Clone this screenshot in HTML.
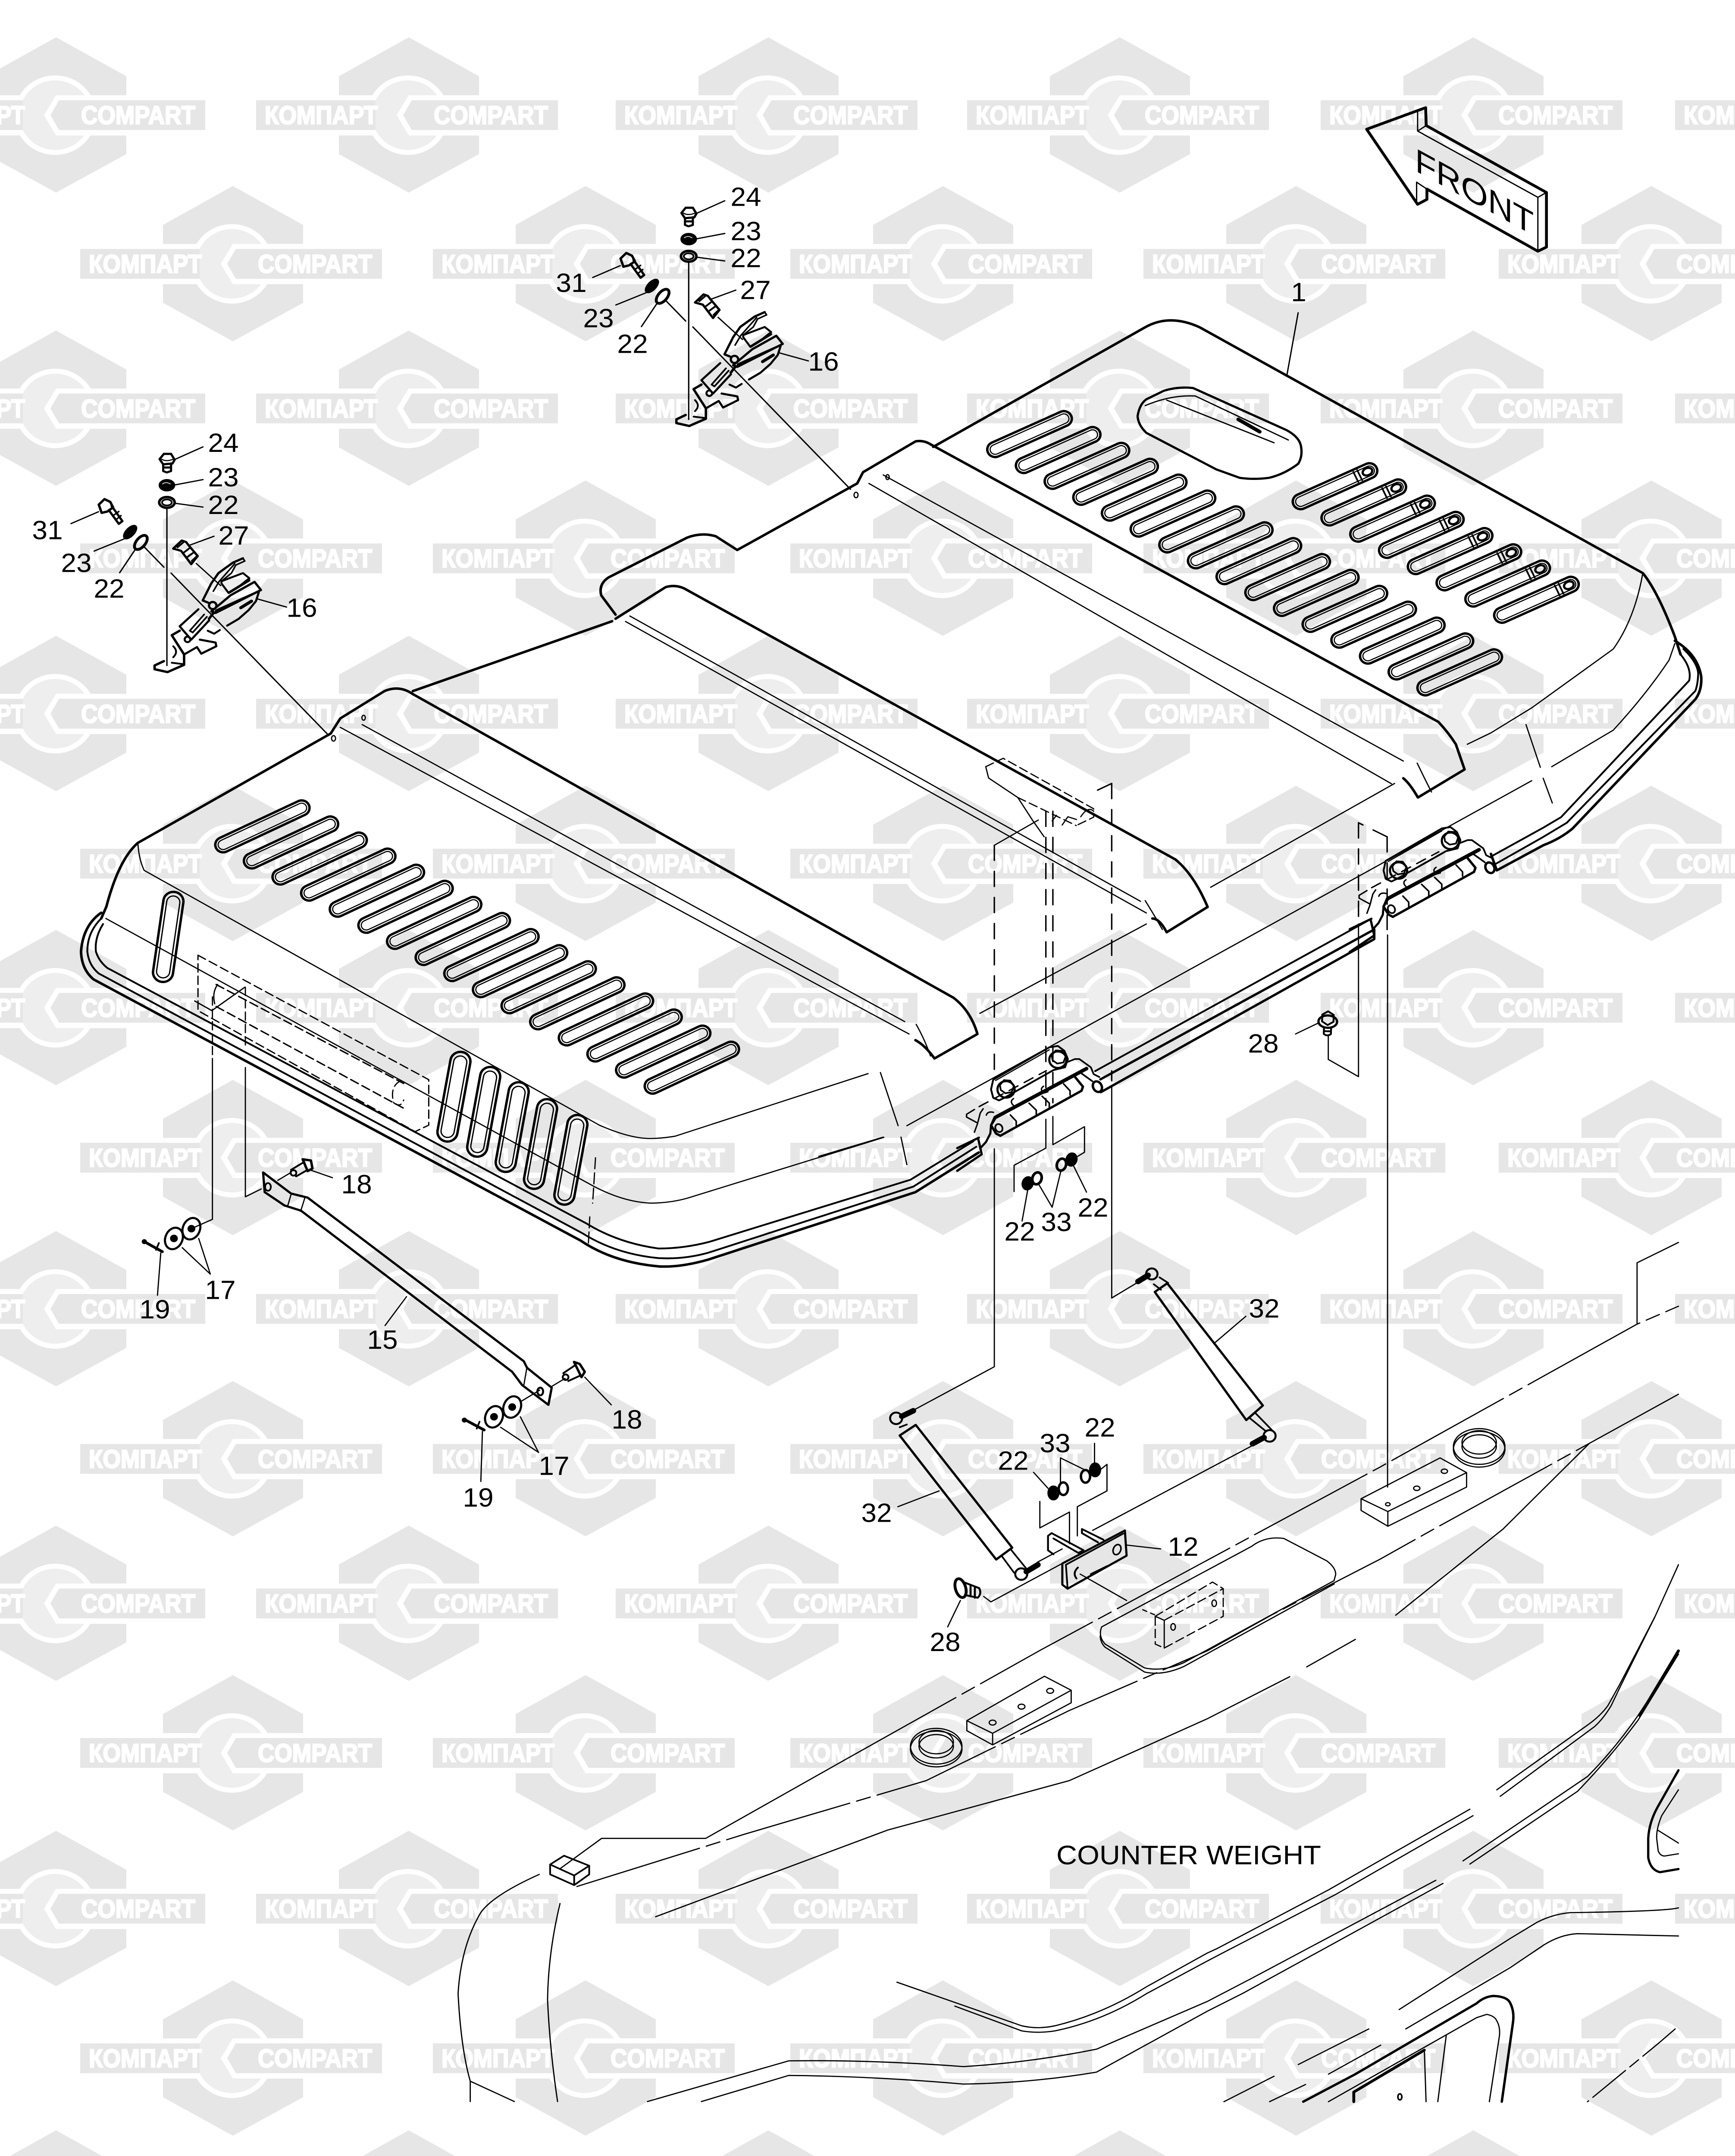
<!DOCTYPE html>
<html><head><meta charset="utf-8"><style>
html,body{margin:0;padding:0;background:#fff;width:100vw;height:100vh;overflow:hidden}
svg{display:block;position:fixed;left:0;top:0;width:100vw;height:100vh}
</style></head><body>
<svg xmlns="http://www.w3.org/2000/svg" viewBox="0 0 4024 5205" preserveAspectRatio="none">
<defs>
<g id="w">
<polygon points="0,-188 163,-94 163,94 0,187 -162,94 -162,-94" fill="#e6e6e6"/>
<ellipse cx="-2" cy="0" rx="95" ry="96" fill="#fff"/>
<rect x="-170" y="-48" width="340" height="97" fill="#fff"/>
<ellipse cx="-2" cy="0" rx="83" ry="84" fill="#eee"/>
<polygon points="0,-48 -28,0 0,49 170,49 170,-48" fill="#fff"/>
<rect x="-354" y="-36" width="277" height="72" fill="#e6e6e6"/>
<polygon points="7,-36 -13,0 7,36 346,36 346,-36" fill="#e6e6e6"/>
<text x="-334" y="21.5" font-family="'Liberation Sans',sans-serif" font-weight="700" font-size="62" fill="#fff" stroke="#fff" stroke-width="3" textLength="262" lengthAdjust="spacingAndGlyphs">КОМПАРТ</text>
<text x="58" y="21.5" font-family="'Liberation Sans',sans-serif" font-weight="700" font-size="62" fill="#fff" stroke="#fff" stroke-width="3" textLength="265" lengthAdjust="spacingAndGlyphs">COMPART</text>
</g>
<g id="s1"><rect x="-32" y="-5.5" width="64" height="11" rx="5.5" stroke-width="1.7"/><rect x="-30" y="-3.5" width="60" height="7" rx="3.5" stroke-width=".8"/></g>
<g id="s2"><use href="#s1"/><path d="M16 -4V4M19 -4V4" stroke-width="1.2"/><ellipse cx="25" cy="0" rx="3.5" ry="2.6" stroke-width="1.6"/></g>
<g id="s3"><rect x="-36" y="-5.5" width="72" height="11" rx="5.5" stroke-width="1.7"/><rect x="-34" y="-3.5" width="68" height="7" rx="3.5" stroke-width=".8"/></g>
<g id="v"><rect x="-7" y="-33" width="14" height="66" rx="7" stroke-width="1.7"/><rect x="-4.6" y="-30" width="9.2" height="60" rx="4.6" stroke-width=".9"/></g>
<g id="hinge">
<path d="M695.8 812.4L759 777.2" stroke-width="2.6"/>
<path d="M698.8 826L755.5 793.3L756.5 790.3L751 783.3" stroke-width="1.7"/>
<path d="M695.8 812.4L692.3 818.4L695.8 824.4L698.8 826" stroke-width="1.7"/>
<ellipse cx="697.8" cy="820.4" rx="2.4" ry="3" transform="rotate(-25 697.8 820.4)" stroke-width="1.2"/>
<path d="M705.8 810.9L709.9 815.4V818.4M718.9 802.4L723.9 807.4V810.4M728 797.3L733 802.3V805.4M743 788.3L747.5 793.3V796.3" stroke-width="1.1"/>
<path d="M693.8 785.3L733 761.7L739 760.7L743.5 764.2L746 770.2L744 776.2L736 778.2L701.8 798.3L697.8 800.3L693.8 798.3L692.3 792.3Z" stroke-width="1.3"/>
<path d="M695.5 785.8L733 763.5" stroke-width=".8"/>
<path d="M698.5 789.2l2.8-3.6l4.4 .3l2.6 3.8l-1.6 4.6l-4.4 .8l-3.2-2.4Z" stroke-width="1.2"/>
<circle cx="702.8" cy="792.3" r="6" stroke-width="1.5"/>
<path d="M734.7 767.6l2.8-3.6l4.4 .3l2.6 3.8l-1.6 4.6l-4.4 .8l-3.2-2.4Z" stroke-width="1.2"/>
<circle cx="739" cy="770.7" r="6" stroke-width="1.5"/>
<path d="M684 804.8L730.9 778.7" stroke-width="1" stroke-dasharray="7 5"/>
<path d="M746 772.2L751 770.2H754L762 776.2L764 781.2L768 783.3M755 780.3L763 786.3" stroke-width="1.2"/>
<ellipse cx="766.6" cy="790.3" rx="3" ry="4" transform="rotate(-25 766.6 790.3)" stroke-width="1.7"/>
<path d="M675.2 810.4L680.7 806.9M675.2 810.4V812.4L682.3 816.4M680.7 823.4L682.8 817.4L684.8 809.4L686.8 806.4" stroke-width="1"/>
<path d="M694.8 812.4L692.3 818.4L691.8 824.4L688.8 830.5L685.3 834.5" stroke-width="1.5"/>
<path d="M668.7 835L683.8 827.4M668.7 851.5L685.8 839.5L683.5 829" stroke-width="1.6"/>
<path d="M689 811q1-3 5-2M708 799q-3 2 0 5M729 790q-3 2 0 5l3-1" stroke-width="1"/>
</g>
<g id="latch">
<path d="M111.5 333.9L114.5 330.1H119.5L122 334.4L120.5 337.1L114 337.7Z" stroke-width="1.6"/>
<path d="M113 334Q116 336 121 334" stroke-width=".8"/>
<path d="M114 337.7V342.6L116.5 343.6L119.5 342.6V337M115 340H119" stroke-width="1.5"/>
<ellipse cx="116.6" cy="352.9" rx="5.5" ry="4.2" fill="#000" stroke-width=".6"/>
<path d="M113.5 352Q116 350 119 352" stroke="#fff" stroke-width=".5"/>
<ellipse cx="116.6" cy="365.4" rx="5.4" ry="3.9" stroke-width="1.8"/>
<ellipse cx="116.6" cy="365.4" rx="3.4" ry="2.2" stroke-width="1.2"/>
<path d="M116.6 370.4V484" stroke-width=".95"/>
<path d="M122 334.2L141.8 325M122 352.7L141.8 348.8M122 366L141.8 368.8" stroke-width=".9"/>
<path d="M69 367L73 363L77 365L79 369L75 372L71 373Z" stroke-width="1.7"/>
<path d="M76 371L83 381L85.5 379L78 368" stroke-width="1.6"/><path d="M79 375L83 372M81 378L84.5 375" stroke-width="1.1"/>
<path d="M68.8 372.2L49.6 380.8" stroke-width=".9"/>
<ellipse cx="90.9" cy="387" rx="3" ry="6" transform="rotate(42 90.9 387)" fill="#000" stroke-width=".8"/>
<path d="M86.8 391.9L65.7 400.8" stroke-width=".9"/>
<ellipse cx="98.4" cy="394.5" rx="3.2" ry="6" transform="rotate(38 98.4 394.5)" stroke-width="2"/>
<path d="M94.5 399.6L83.6 416.5M100.4 397.4L114.5 412.5M119.5 416.8L229.6 534.8" stroke-width=".95"/>
<path d="M121 399L127 393.1L130 394.2L132 396.9L138.1 404.4L133.6 410.3L126.5 400.6Z" stroke-width="1.6"/>
<path d="M124 398L128 394.5M128.6 401.7L132 399M131 405L135 402M134 408L137 405" stroke-width="1.3"/>
<path d="M132.5 396.5L149.5 390M137.1 409.8L154.2 425.9" stroke-width=".9"/>
<path d="M169.7 406L162.7 409.2L152.6 416.8L147.6 424.3L141.6 436.7L146.6 438.8" stroke-width="1.6"/>
<path d="M169.7 406L171 408L164.7 411L161.7 416.8L154.7 422.7M164 410L153 423L149 430" stroke-width="1.1"/>
<path d="M154.7 422.7L169.7 416.8L174.2 420.5L167.7 425.9L159.7 431.3L154.7 424.3Z" stroke-width="1.4"/>
<path d="M160 431L174 422" stroke-width="1.8"/>
<path d="M177.8 423.2L182.3 429.1L150.6 445.8L147.6 444.7L161 433ZM151 444L180.8 430" stroke-width="1.6"/>
<path d="M180.8 430.7L178.8 437.2L173.7 443.7L166.7 450.1L158.7 455" stroke-width="1.5"/>
<path d="M168.2 442L175.7 437.2" stroke-width="2.2"/>
<circle cx="148.6" cy="440.4" r="2.6" stroke-width="1.6"/>
<path d="M138.6 443.1L125.5 455.5L133.6 465.2L146.1 451.2" stroke-width="1.5"/>
<path d="M132.6 458.7L142.6 446.9M134.6 460L144.5 448.6M132.6 458.7L134.6 460" stroke-width="1.2"/>
<path d="M146 450L149 446L155 443" stroke-width="1.8"/>
<circle cx="131" cy="465" r="2" stroke-width="1.4"/>
<path d="M120 462L125.5 458.7M120 462L128.6 476V483.5L117 488.8L108 486.7V484L114.5 480.8" stroke-width="1.7"/>
<path d="M128.6 476L137.6 470.6L140.6 475.4L151.1 470L150.6 467.3L139.6 465.2" stroke-width="1.5"/>
<path d="M121 470Q125 474 121 478M120 482L128 483" stroke-width="1.3"/>
<path d="M145.1 458.7L149.6 460.9L153.6 458.2" stroke-width="1.4"/>
<path d="M179.8 435.6L200.2 441.5" stroke-width=".9"/>
</g>
<g id="bolt28"><path d="M-4 -6L0 -8.5L4 -6L4 -1L0 1.5L-4 -1Z" stroke-width="1.3"/><ellipse cx="0" cy="-1" rx="6.5" ry="4.5" stroke-width="1.6"/><path d="M-2.5 3V8Q0 10 2.5 8V3M-2.5 6H2.5" stroke-width="1.3"/></g>
</defs>
<rect width="4024" height="5205" fill="#fff"/>
<!-- watermark -->
<use href="#w" x="130" y="278"/><use href="#w" x="948" y="278"/><use href="#w" x="1782" y="278"/><use href="#w" x="2597" y="278"/><use href="#w" x="3417" y="278"/><use href="#w" x="4239" y="278"/>
<use href="#w" x="540" y="637"/><use href="#w" x="1358" y="637"/><use href="#w" x="2187" y="637"/><use href="#w" x="3006" y="637"/><use href="#w" x="3830" y="637"/>
<use href="#w" x="130" y="986"/><use href="#w" x="948" y="986"/><use href="#w" x="1782" y="986"/><use href="#w" x="2597" y="986"/><use href="#w" x="3417" y="986"/><use href="#w" x="4239" y="986"/>
<use href="#w" x="540" y="1348"/><use href="#w" x="1358" y="1348"/><use href="#w" x="2187" y="1348"/><use href="#w" x="3006" y="1348"/><use href="#w" x="3830" y="1348"/>
<use href="#w" x="130" y="1723"/><use href="#w" x="948" y="1723"/><use href="#w" x="1782" y="1723"/><use href="#w" x="2597" y="1723"/><use href="#w" x="3417" y="1723"/><use href="#w" x="4239" y="1723"/>
<use href="#w" x="540" y="2085"/><use href="#w" x="1358" y="2085"/><use href="#w" x="2187" y="2085"/><use href="#w" x="3006" y="2085"/><use href="#w" x="3830" y="2085"/>
<use href="#w" x="130" y="2433"/><use href="#w" x="948" y="2433"/><use href="#w" x="1782" y="2433"/><use href="#w" x="2597" y="2433"/><use href="#w" x="3417" y="2433"/><use href="#w" x="4239" y="2433"/>
<use href="#w" x="540" y="2795"/><use href="#w" x="1358" y="2795"/><use href="#w" x="2187" y="2795"/><use href="#w" x="3006" y="2795"/><use href="#w" x="3830" y="2795"/>
<use href="#w" x="130" y="3160"/><use href="#w" x="948" y="3160"/><use href="#w" x="1782" y="3160"/><use href="#w" x="2597" y="3160"/><use href="#w" x="3417" y="3160"/><use href="#w" x="4239" y="3160"/>
<use href="#w" x="540" y="3522"/><use href="#w" x="1358" y="3522"/><use href="#w" x="2187" y="3522"/><use href="#w" x="3006" y="3522"/><use href="#w" x="3830" y="3522"/>
<use href="#w" x="130" y="3871"/><use href="#w" x="948" y="3871"/><use href="#w" x="1782" y="3871"/><use href="#w" x="2597" y="3871"/><use href="#w" x="3417" y="3871"/><use href="#w" x="4239" y="3871"/>
<use href="#w" x="540" y="4232"/><use href="#w" x="1358" y="4232"/><use href="#w" x="2187" y="4232"/><use href="#w" x="3006" y="4232"/><use href="#w" x="3830" y="4232"/>
<use href="#w" x="130" y="4608"/><use href="#w" x="948" y="4608"/><use href="#w" x="1782" y="4608"/><use href="#w" x="2597" y="4608"/><use href="#w" x="3417" y="4608"/><use href="#w" x="4239" y="4608"/>
<use href="#w" x="540" y="4969"/><use href="#w" x="1358" y="4969"/><use href="#w" x="2187" y="4969"/><use href="#w" x="3006" y="4969"/><use href="#w" x="3830" y="4969"/>
<g fill="#e6e6e6"><polygon points="23,5205 130,5143 237,5205"/><polygon points="841,5205 948,5143 1055,5205"/><polygon points="1675,5205 1782,5143 1889,5205"/><polygon points="2490,5205 2597,5143 2704,5205"/><polygon points="3310,5205 3417,5143 3524,5205"/></g>

<g fill="none" stroke="#000" stroke-linecap="round" stroke-linejoin="round" stroke-width=".85" transform="scale(3.3201 3.3195)">
<!-- FRONT arrow -->
<path d="M954.7 94L995.9 78.3L996.3 91.3L1080.3 140V179.7L1074.3 182.7L996.8 137.5V145L990.3 148.6Z" stroke-width="2"/>
<path d="M990.3 81.8V95.3L1074.3 143.5V182.7M1074.3 143.5L1080.3 140M990.3 95.3L996.3 91.3M989.6 132.5V148.6M989.6 132.5L996.8 137.5" stroke-width=".9"/>
<!-- hood bold -->
<g stroke-width="1.8">
<path d="M231 533.5L237.7 522.5L268.6 502.6Q279 498 288.4 504.8L666 725.6Q678 735 682.8 752L652.8 769.8Q646 760 639.5 756.5"/>
<path d="M288.4 502.6L427.6 451.8"/>
<path d="M430 450L465 427Q472 425 478 428L821 625Q834 636 843.6 659.6L815 678Q810 668 805 668"/>
<path d="M598.8 351.6L602.9 343.4L639.6 321Q645 320 649.8 323L1004.8 525Q1012 533 1017 541.3L1023.1 559.6L990.5 580Q985 570 980.3 566"/>
<path d="M651.9 325L800 238Q817 228 838 238L1147.6 416.8Q1158 430 1170 463L1174 476"/>
<path d="M598.8 351.6L515 400L500 390Q490 387 480 391L425 420Q418 425 420 433L430 447"/>
<path d="M231 533.5L96.3 613Q83 625 74.3 659.4L70.7 668"/>
<path d="M70.7 663.8Q58 673 56.6 692Q57 705 65.4 712.3L405.5 902.2Q428 918 460 921Q475 922 495 916L639.5 867L683.7 838.2"/>
<path d="M1170 466Q1186 476 1188.4 492Q1189 502 1184.3 508.6L1098.6 602.5Q1090 610 1078.2 614.7L1045.6 633L1041.5 621"/>
</g>
<g stroke-width="1.3">
<path d="M70.7 668Q61 678 61 692Q62 702 69 708L407 897Q430 912 460 915Q478 916 495 911L638 863L682 834"/>
<path d="M72 672Q66 682 67 692Q69 699 75 704L410 890Q432 904 460 908Q478 908 496 903L636 858L680 830"/>
<path d="M1174 476Q1182 486 1180 495L1090.5 594.3L1078 602L1041.5 623"/>
<path d="M1176 472Q1186 482 1186.3 490Q1186 498 1184.3 502.5L1094.5 598.4L1078.2 608.6L1043.6 629"/>
<path d="M765 779L958 668.2"/>
</g>
<path d="M768.7 785L960 676M769 794.3L960 683V676" stroke-width="1.7"/>
<!-- hood thin -->
<path d="M237.7 529L635 752M253 527L632 743"/>
<path d="M440 448L796.7 655.5M437 452L800.8 664"/>
<path d="M617 345.4L980.3 553.5M607 351.6L972 570"/>
<path d="M990 555Q996 568 1000 576M800 655Q806 665 812 676M640 745Q646 756 650 768"/>
<path d="M96.3 613Q97 625 100.7 633L418.7 818.3Q440 828 454 828Q462 828 471.7 826.3L606.4 780.8"/>
<path d="M74 668L414.3 862.5Q435 874 454 875Q468 875 480.5 871.3L617.4 827.2"/>
<path d="M684.5 737L800.8 672M845.7 645.3L974.2 569.8M1025 541.3L1041.5 533L1070 514.8L1127 472Q1142 450 1147.6 416.8"/>
<path d="M633.5 818.7L1070 567.8M1084 557.6L1127 531Q1150 505 1166 480L1170 468"/>
<path d="M615 780L627.4 818.7M629.4 827L633.5 847M1066 527L1076 558M1078 566L1084.4 584"/>
<path d="M416 842L414 875M412 885L411 905" stroke-dasharray="8 3"/>
<path d="M572 841L617 827"/>
<!-- small holes -->
<ellipse cx="233" cy="537" rx="1.4" ry="2"/><ellipse cx="254" cy="522" rx="1.2" ry="1.8"/>
<ellipse cx="598" cy="360" rx="1.4" ry="2"/><ellipse cx="620" cy="347" rx="1.2" ry="1.8"/>
<!-- oval opening -->
<path d="M813 284.2Q823 281 833.4 282.2L898.7 312.8Q908 318 908.9 325Q910 332 906.9 337.3Q897 345 886.5 347.5Q876 349 866 347.5L849.7 341.4L800.8 314.8Q795 309 794.7 302.6Q796 294 800.8 290.4Z" stroke-width="1.6"/>
<path d="M800 295Q818 287 835 288L900 320M815 291L890 322" stroke-width=".9"/>
<path d="M865 305L880 314" stroke-width="2.6"/>
<!-- slots 1 -->
<g transform="translate(719.2 315.7) rotate(-25)"><use href="#s1"/></g><g transform="translate(739.2 327.3) rotate(-25)"><use href="#s1"/></g><g transform="translate(759.3 338.8) rotate(-25)"><use href="#s1"/></g><g transform="translate(779.3 350.4) rotate(-25)"><use href="#s1"/></g><g transform="translate(799.3 361.9) rotate(-25)"><use href="#s1"/></g><g transform="translate(819.4 373.5) rotate(-25)"><use href="#s1"/></g><g transform="translate(839.4 385) rotate(-25)"><use href="#s1"/></g><g transform="translate(859.4 396.6) rotate(-25)"><use href="#s1"/></g><g transform="translate(879.4 408.1) rotate(-25)"><use href="#s1"/></g><g transform="translate(899.5 419.7) rotate(-25)"><use href="#s1"/></g><g transform="translate(919.5 431.2) rotate(-25)"><use href="#s1"/></g><g transform="translate(939.5 442.8) rotate(-25)"><use href="#s1"/></g><g transform="translate(959.6 454.3) rotate(-25)"><use href="#s1"/></g><g transform="translate(979.6 465.9) rotate(-25)"><use href="#s1"/></g><g transform="translate(999.6 477.4) rotate(-25)"><use href="#s1"/></g><g transform="translate(1019.7 489) rotate(-25)"><use href="#s1"/></g>
<!-- slots 2 -->
<g transform="translate(932.6 353.6) rotate(-25)"><use href="#s2"/></g><g transform="translate(952.7 365.4) rotate(-25)"><use href="#s2"/></g><g transform="translate(972.8 377.2) rotate(-25)"><use href="#s2"/></g><g transform="translate(992.9 389) rotate(-25)"><use href="#s2"/></g><g transform="translate(1013 400.8) rotate(-25)"><use href="#s2"/></g><g transform="translate(1033.1 412.6) rotate(-25)"><use href="#s2"/></g><g transform="translate(1053.2 424.4) rotate(-25)"><use href="#s2"/></g><g transform="translate(1073.3 436.2) rotate(-25)"><use href="#s2"/></g>
<!-- slots 3 -->
<g transform="translate(183.3 601) rotate(-26)"><use href="#s3"/></g><g transform="translate(203.3 612.7) rotate(-26)"><use href="#s3"/></g><g transform="translate(223.3 624.4) rotate(-26)"><use href="#s3"/></g><g transform="translate(243.3 636.1) rotate(-26)"><use href="#s3"/></g><g transform="translate(263.3 647.8) rotate(-26)"><use href="#s3"/></g><g transform="translate(283.3 659.5) rotate(-26)"><use href="#s3"/></g><g transform="translate(303.3 671.2) rotate(-26)"><use href="#s3"/></g><g transform="translate(323.3 682.9) rotate(-26)"><use href="#s3"/></g><g transform="translate(343.3 694.6) rotate(-26)"><use href="#s3"/></g><g transform="translate(363.3 706.3) rotate(-26)"><use href="#s3"/></g><g transform="translate(383.3 718) rotate(-26)"><use href="#s3"/></g><g transform="translate(403.3 729.7) rotate(-26)"><use href="#s3"/></g><g transform="translate(423.3 741.4) rotate(-26)"><use href="#s3"/></g><g transform="translate(443.3 753.1) rotate(-26)"><use href="#s3"/></g><g transform="translate(463.3 764.8) rotate(-26)"><use href="#s3"/></g><g transform="translate(483.3 776.5) rotate(-26)"><use href="#s3"/></g>
<!-- vertical slots -->
<g transform="translate(117.5 681.4) rotate(8)"><use href="#v"/></g>
<g transform="translate(317.1 797.6) rotate(10)"><use href="#v"/></g><g transform="translate(337.9 808.6) rotate(10)"><use href="#v"/></g><g transform="translate(357.8 819.7) rotate(10)"><use href="#v"/></g><g transform="translate(377.6 832) rotate(10)"><use href="#v"/></g><g transform="translate(398.8 843.5) rotate(10)"><use href="#v"/></g>
<!-- dashed hidden box left -->
<g stroke-dasharray="6 3">
<path d="M138.3 694.7L299.5 785.2V818.3L290 823L138.3 735V694.7" stroke-width=".9"/>
<path d="M151 716L282 788M151 732L282 806" stroke-width="1"/>
<path d="M148.4 725V768M171.4 718V760"/>
<path d="M280 786Q272 790 275 802Q280 806 282 800"/>
</g>
<path d="M136 728L148 735L171 718M152 716Q148 722 150 730" stroke-width=".9"/>
<path d="M148.4 769.8V886.8L134 893.4M171.4 776.4V870.4L182.5 864.7"/>
<!-- tie rod 15 -->
<path d="M183.8 852.7L203.3 868L214.9 871L365.9 990L368.2 994.8L385.4 1009.2L383.1 1021.7L364.7 1007.3L357.8 997.7L210.3 880.5L198.7 876.7L184.9 867Z" stroke-width="1.6"/>
<path d="M203.5 868L201 877M213 871L210 881M368 995L366 1007"/>
<ellipse cx="187.2" cy="863.2" rx="2" ry="2.8" stroke-width="1.2"/><ellipse cx="377.4" cy="1012" rx="2" ry="2.8" stroke-width="1.4"/>
<!-- bolts 18 -->
<path d="M203.3 850.8L212.6 845M206.8 855.6L214.9 850.8" stroke-width="1.3"/>
<path d="M211.4 843.1L217.2 844L218.3 849.8L214.9 851.7Z" stroke-width="1.7"/>
<circle cx="205" cy="853" r="2" stroke-width="1.3"/>
<path d="M393.5 998.7L401.6 993M397 1004.4L405 1000.6" stroke-width="1.3"/>
<path d="M401 990.5L405 992L408.5 997.7L406.2 1001.6Z" stroke-width="1.7"/>
<circle cx="395.1" cy="1001.6" r="2" stroke-width="1.3"/>
<path d="M217 851L232.2 856.5M194.1 858.4L203.3 852.7M408.5 1001.6L427 1021.7M385.4 1008.3L394.7 1002.5M284 943L269 964"/>
<!-- washers 17 -->
<ellipse cx="121.5" cy="900.7" rx="6" ry="8" transform="rotate(20 121.5 900.7)" stroke-width="1.5"/><circle cx="121.5" cy="900.7" r="2.3" fill="#000"/>
<ellipse cx="133.7" cy="893.6" rx="6" ry="8" transform="rotate(20 133.7 893.6)" stroke-width="1.5"/><circle cx="133.7" cy="893.6" r="2.3" fill="#000"/>
<ellipse cx="345.1" cy="1030.4" rx="6" ry="8" transform="rotate(20 345.1 1030.4)" stroke-width="1.5"/><circle cx="345.1" cy="1030.4" r="2.3" fill="#000"/>
<ellipse cx="357.8" cy="1023.3" rx="6" ry="8" transform="rotate(20 357.8 1023.3)" stroke-width="1.5"/><circle cx="357.8" cy="1023.3" r="2.3" fill="#000"/>
<circle cx="100.8" cy="903" r="1.8" fill="#000" stroke="none"/><circle cx="324.4" cy="1032.8" r="1.8" fill="#000" stroke="none"/>
<path d="M100.8 903L113.4 910.3M324.4 1032.3L338.2 1040" stroke-width="2"/>
<path d="M111 904L109 909M335 1034L333 1039" stroke-width="1.2"/>
<path d="M112.3 911.3L110 942M337 1041L335.9 1077.4M127.3 907.4L146.9 926.6M138.8 900.7L146.9 926.6M349.7 1038L376.2 1056.3M363.5 1030.4L376.2 1056.3"/>
<path d="M363.5 1019.5L377 1011"/>
<!-- latches -->
<use href="#latch"/>
<use href="#latch" transform="translate(364.5 -179)"/>
<!-- hinges -->
<use href="#hinge"/>
<use href="#hinge" transform="translate(274.2 -159.2)"/>
<!-- hidden piece near rib 2 -->
<g stroke-dasharray="6 3">
<path d="M688.6 557.6L700.8 551.5L764 588.2V594.3L751.8 600.4M711 580L751.8 600.4"/>
</g>
<g stroke-dasharray="11 8" stroke-width="1">
<path d="M694.6 614.7V780M730.6 590V804M735.5 590V802M776.6 569.8V786M969 608.6V676M949 598.4V672"/>
<path d="M776.6 569.8L764 576M969 608.6L949 598.4"/>
</g>
<path d="M688.6 557.6L690.6 565.8L711 580L721.2 596.4L729.4 608.6M694.7 614.7L725.3 596.4"/>
<path d="M735 597l3 -4M742 600l4 -6l6 2M755 594Q760 586 764 590"/>
<!-- long connector lines -->
<path d="M694.6 835.5V994L639.7 1024.7"/>
<path d="M730.6 814V835L708.4 847.5V866.6M735.5 812V832.5L757.6 819.4V838L752 841.5"/>
<path d="M776.6 790V944L795.3 932.3"/>
<path d="M969.3 680V1081.5"/>
<path d="M949 672V783L927.9 770.5V752.7"/>
<use href="#bolt28" transform="translate(927.5 744) rotate(2)"/>
<path d="M921 744L905 752"/>
<!-- nuts under hinge -->
<ellipse cx="717.9" cy="860.6" rx="3.8" ry="4.8" fill="#000" transform="rotate(15 717.9 860.6)"/>
<ellipse cx="724.4" cy="857" rx="3.2" ry="4.4" stroke-width="1.9" transform="rotate(15 724.4 857)"/>
<ellipse cx="741.5" cy="847" rx="3.2" ry="4.4" stroke-width="1.9" transform="rotate(15 741.5 847)"/>
<ellipse cx="748.5" cy="843.3" rx="3.8" ry="4.8" fill="#000" transform="rotate(15 748.5 843.3)"/>
<path d="M718 865L714 888M726 862L735 878L741 852M750 848L759 867"/>
<!-- struts -->
<path d="M628.5 1044L639.7 1036.3L707.1 1125.6L695.9 1134.2Z" stroke-width="1.6"/>
<path d="M699.6 1131.4L708.4 1143.8M705.9 1126.6L717.1 1141M628.5 1038L633.5 1036" stroke-width="1.2"/>
<circle cx="713.4" cy="1144.8" r="4.2" stroke-width="1.4"/><circle cx="626" cy="1031.5" r="4.2" stroke-width="1.4"/>
<path d="M630 1030L638 1026" stroke-width="4"/><path d="M717 1143L725 1138" stroke-width="4"/>
<path d="M806.7 939.6L815.4 933.3L882.2 1022.2L870.6 1032.8Z" stroke-width="1.6"/>
<path d="M873.2 1031.5L884.4 1041M876.9 1027.6L889.4 1041M806 934L811 938M810 929L816 933" stroke-width="1.2"/>
<circle cx="886.9" cy="1044.3" r="4.2" stroke-width="1.4"/><circle cx="804.6" cy="926.5" r="4" stroke-width="1.4"/>
<path d="M875 1050L883 1045.5" stroke-width="4"/><path d="M795 932L802 927.5" stroke-width="4"/>
<path d="M763.3 1113L874.4 1051.6M656 1084.3L627.2 1095.8M870.3 957.3L848.7 976.5M724.6 1136.2L742 1126.5"/>
<!-- bracket 12 -->
<path d="M742.1 1137.1L785.8 1113.1L787 1131.4L745.8 1155.4L742.1 1152.5Z" stroke-width="1.5"/>
<path d="M744.6 1138L784.6 1115.4M745.8 1155.4L744.6 1138M762 1144.8L773.3 1139" stroke-width="1.2"/>
<ellipse cx="780.3" cy="1127" rx="2.6" ry="3.8" transform="rotate(20 780.3 1127)" stroke-width="1.1"/>
<path d="M753 1140Q749 1144 752 1148" stroke-width="1.3"/>
<path d="M732.1 1127.5V1117L734.6 1115L757 1127.5L753.3 1129.4L735.9 1118.9M732.1 1127.5L735.9 1130.4M755.8 1112L770.8 1119.8M755.8 1112V1115L767 1121.7" stroke-width="1.3"/>
<path d="M747.1 1099.7V1122.7M752.6 1095.8V1117M726.4 1092V1111.2L747.1 1099.7M752.6 1095.8L773.3 1084.3V1065L766 1071M740.8 1060.3L759.6 1069.9M740.8 1060.3V1078.5M732.1 1082.4L722 1070.8M764.6 1065V1049.7M787 1123.7L810.8 1126.5"/>
<ellipse cx="735.9" cy="1085.8" rx="3.8" ry="5" fill="#000"/><ellipse cx="742.8" cy="1082.7" rx="3.2" ry="4.6" stroke-width="1.7"/><ellipse cx="758.3" cy="1073.7" rx="3.2" ry="4.6" stroke-width="1.7"/><ellipse cx="765" cy="1069" rx="3.8" ry="5" fill="#000"/>
<!-- bolt 28 lower -->
<ellipse cx="671" cy="1155" rx="3.6" ry="7" transform="rotate(-15 671 1155)" stroke-width="2"/>
<path d="M674 1151L684 1155Q686 1159 683 1162L674 1160M678 1153V1161M681 1154V1162" stroke-width="1.4"/>
<path d="M670.9 1164L662 1183.2M687.2 1161.1L692.2 1165L742 1137.1"/>
<path d="M754.6 1144.8L787 1164"/>
<path d="M798.3 1170.7L807 1174.6" stroke-dasharray="3 3"/>
<!-- dashed block -->
<g stroke-dasharray="6 3"><path d="M807 1175.5L847 1150.6L854.5 1155.4V1175.5L813.3 1198.6L807 1195.7V1175.5M813.3 1178.4L854.5 1155.4"/></g>
<path d="M807 1175.5L813.3 1178.4V1198.6"/>
<ellipse cx="819.5" cy="1183.2" rx="1.6" ry="2.4"/><ellipse cx="848.2" cy="1166" rx="1.6" ry="2.4"/>
<!-- recess -->
<path d="M769.6 1183.2L874.4 1124.6Q884 1117 896.9 1118.9L926.9 1135.2Q933 1140 933.1 1145L931.9 1149.6L827 1209.2Q812 1216 799.5 1213L772 1195.7Q767 1190 769.6 1183.2Z"/>
<path d="M768.5 1190Q769 1195 772 1198L799.5 1216Q812 1219 827 1212L932 1152"/>
<!-- plugs -->
<ellipse cx="1033.3" cy="1052" rx="18" ry="13"/><ellipse cx="1033.3" cy="1054" rx="18" ry="13"/><ellipse cx="1033.3" cy="1049" rx="12" ry="8.5"/><ellipse cx="1033.3" cy="1052" rx="12" ry="8.5"/>
<ellipse cx="654" cy="1270" rx="18" ry="13"/><ellipse cx="654" cy="1272" rx="18" ry="13"/><ellipse cx="654" cy="1267" rx="12" ry="8.5"/><ellipse cx="654" cy="1270" rx="12" ry="8.5"/>
<!-- blocks -->
<path d="M950.8 1090L1006 1060.3L1024.5 1071V1081.5L969.5 1110L950.8 1098.5ZM969.5 1099.3L1024.5 1071M950.8 1090L969.5 1099.3V1110"/>
<ellipse cx="969.5" cy="1094" rx="1.6" ry="1.2"/><ellipse cx="989.7" cy="1082.4" rx="2.2" ry="1.6"/><ellipse cx="1009" cy="1070" rx="2.2" ry="1.6"/>
<path d="M675.4 1251.4L729.6 1219.1L748.3 1229.3V1238.4L693.4 1269L675.4 1258.7ZM693.4 1260.6L748.3 1229.3M675.4 1251.4L693.4 1260.6V1269"/>
<ellipse cx="693.4" cy="1252.8" rx="2.4" ry="1.8"/><ellipse cx="713.6" cy="1241.2" rx="2.4" ry="1.8"/><ellipse cx="733.6" cy="1229.7" rx="2.4" ry="1.8"/>
<!-- counterweight -->
<path d="M391.3 1359L420.3 1337H493L590 1280"/>
<path d="M590 1280L727 1200L964 1067L1143.6 963L1172.5 950" stroke-dasharray="90 5 10 5"/>
<path d="M1143.6 963V918.4L1172.5 903.6"/>
<path d="M403 1372L520 1334L647 1295L747 1244L843.4 1200.6L888 1174.7L964 1134L1000 1113L1172.5 1014" stroke-dasharray="90 5 10 5"/>
<path d="M458 1394L620 1331L747 1295L843.4 1250L901 1219.4M912.8 1212.3L946.8 1192.3M975 1174.7L1050 1112L1110 1050"/>
<path d="M376.7 1363.2Q345 1378 336 1390.7Q322 1415 320 1450Q322 1490 328.5 1513.6V1528.4M328.5 1513.6L359.3 1528.4"/>
<path d="M384.3 1356L394 1349.6L411.6 1356.9V1363.2L401.1 1371L384.3 1363.2ZM401.1 1364L411.6 1356.9M384.3 1356L401.1 1364V1371" stroke-width="1.2"/>
<path d="M391.2 1384.4Q383 1420 382.5 1454.3Q384 1490 389.5 1528.4"/>
<!-- curve U1/U2 -->
<path d="M626.6 1441.6L713.7 1473.3Q725 1476 737 1473.3Q770 1465 800.8 1445L843.4 1420.4L850.5 1417L928 1374.5L1026.8 1315.8M1045.6 1301.7L1109 1254.6Q1118 1248 1123.2 1240.5L1131.4 1225.2L1156 1176L1172.5 1138"/>
<path d="M667 1459L713.7 1477Q725 1479 737 1477Q770 1470 800.8 1450L843.4 1426.2L854 1420.4L932.7 1378L1029 1320.5M1048 1306.4L1113.8 1255.8Q1120 1250 1125.5 1240.5L1131.4 1227.6L1156 1176"/>
<!-- curve U3/U4 -->
<path d="M1172.5 1203L1144.3 1247.6Q1128 1272 1109 1292L1022 1353.4M1003 1367.5L874 1439L843.4 1455.6L766 1490.3Q720 1500 673 1503Q610 1498 551 1498.8L452.3 1528.4"/>
<path d="M1172.5 1203L1144.3 1251Q1125 1278 1102 1302.8L1026.8 1355.7M1008 1369.8L868 1449.8L843.4 1462.7L766 1507Q720 1515 673 1515.7Q610 1510 551 1509.4L490 1528.4"/>
<path d="M1172.5 1200.6L1145.5 1247.6" stroke-width="2"/>
<!-- flat curves -->
<path d="M1172.5 1387.5Q1165 1390 1097.3 1391Q1085 1392 1073.8 1398L1055 1409.8L977.4 1461.5M956.2 1475.6L906.9 1501.5M890 1510L855 1528.5"/>
<path d="M1172.5 1408L1102 1406.3Q1090 1407 1078.5 1414.5L1055 1431L982 1475.6M964.5 1487.4L928 1508.5M912 1516L886.9 1528.5"/>
<!-- window -->
<path d="M910.4 1528.5L946.8 1508.5L1031.5 1457Q1037 1452 1043.2 1451.6Q1053 1452 1055 1456.8Q1058 1463 1056.9 1471L1049.1 1528.5" stroke-width="1.7"/>
<path d="M928 1528.5L1031.5 1467.4L1038.5 1465Q1044 1466 1045.6 1469.7Q1048 1474 1047.5 1480.3L1040.4 1528.5"/>
<path d="M945.7 1528.5V1521.5L995 1491" stroke-width="2"/><path d="M995 1491L996.2 1528.5"/>
<ellipse cx="977.9" cy="1525" rx="1.4" ry="2.2" stroke-width="1.1"/>
<path d="M1010.3 1480.3L1004.4 1528.5"/>
<!-- right hook -->
<path d="M1172.5 1287.5L1158.4 1313.4Q1152 1325 1151.4 1337V1351Q1153 1360 1159.6 1361.6L1172.5 1359.3" stroke-width="1.6"/>
<path d="M1172.5 1301.7L1160.8 1320.5Q1157 1330 1157.3 1337L1158.4 1346.3Q1160 1350 1163.1 1349.8L1172.5 1348.2M1158 1331L1172.5 1340.4"/>
<path d="M1170.2 1475.6L1158.4 1486.2L1109 1528.5" stroke-dasharray="30 4 8 4"/>
</g>
<!-- labels -->
<g font-family="'Liberation Sans',sans-serif" font-size="64" fill="#000" text-anchor="middle">
<text x="3012" y="727">1</text>
<text x="1730" y="497">24</text><text x="1730" y="580">23</text><text x="1730" y="645">22</text>
<text x="1325" y="705">31</text><text x="1388" y="790">23</text><text x="1467" y="852">22</text>
<text x="1752" y="722">27</text><text x="1910" y="895">16</text>
<text x="518" y="1091">24</text><text x="518" y="1174">23</text><text x="518" y="1241">22</text>
<text x="110" y="1302">31</text><text x="177" y="1381">23</text><text x="253" y="1443">22</text>
<text x="542" y="1315">27</text><text x="700" y="1489">16</text>
<text x="827" y="2881">18</text><text x="1454" y="3449">18</text>
<text x="511" y="3136">17</text><text x="1285" y="3561">17</text>
<text x="359" y="3183">19</text><text x="1109" y="3637">19</text>
<text x="887" y="3256">15</text>
<text x="2930" y="2541">28</text>
<text x="2365" y="2995">22</text><text x="2450" y="2972">33</text><text x="2535" y="2937">22</text>
<text x="2932" y="3181">32</text><text x="2033" y="3674">32</text>
<text x="2350" y="3548">22</text><text x="2447" y="3506">33</text><text x="2551" y="3468">22</text>
<text x="2744" y="3756">12</text><text x="2192" y="3986">28</text>
<text x="2450" y="4501" style="text-anchor:start" font-size="65" textLength="614" lengthAdjust="spacingAndGlyphs">COUNTER WEIGHT</text>
<text transform="matrix(1 .57 0 1 3282 412)" font-size="80" style="text-anchor:start">FRONT</text>
</g>
<!-- leader for part 1 -->
<path d="M3011 754L2984 910" fill="none" stroke="#000" stroke-width="3"/>
</svg>
</body></html>
